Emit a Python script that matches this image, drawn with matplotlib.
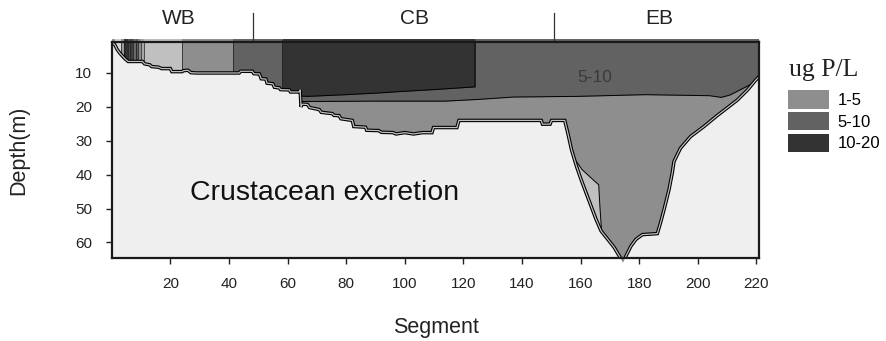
import numpy as np
import matplotlib
matplotlib.use('Agg')
import matplotlib.pyplot as plt
from matplotlib.patches import Polygon, Patch
from matplotlib.transforms import blended_transform_factory

plt.rcParams['font.family'] = ['Liberation Sans', 'DejaVu Sans']

# lake bottom along the transect (segment, depth m)
bottom_seg = [0, 1.0, 1.8, 2.8, 4.5, 5.6, 10.5, 11.2, 13.0, 13.6, 16.0, 17.0, 20.0, 20.5,
              24.0, 24.5, 26.0, 27.0, 29.0, 38.0, 43.5, 44.0, 48.0, 48.5, 50.4, 51.0,
              52.6, 53.0, 55.0, 55.5, 57.2, 57.6, 60.6, 61.0, 64.0, 64.3, 64.6, 65.0,
              66.8, 67.5, 70.8, 71.5, 75.3, 75.8, 77.6, 78.2, 82.1, 82.6, 86.6, 87.0,
              91.1, 92.0, 96.0, 97.0, 100.0, 103.0, 106.0, 109.3, 109.8, 117.8, 118.5,
              143.5, 146.6, 147.0, 149.6, 150.1, 154.6, 155.7, 156.9, 158.6, 160.2,
              161.9, 163.6, 165.3, 167.0, 169.3, 171.5, 173.2, 174.5, 175.5, 177.2,
              178.9, 181.1, 186.2, 187.3, 188.5, 190.2, 191.3, 191.9, 194.1, 197.5,
              202.1, 206.6, 211.1, 213.5, 217.0, 219.7, 221.0]
bottom_depth = [1.0, 1.6, 3.0, 4.2, 5.8, 6.6, 6.6, 7.3, 7.6, 8.1, 8.3, 8.7, 8.7, 9.6,
                9.6, 9.3, 9.2, 9.9, 10.0, 10.0, 10.0, 9.5, 9.5, 10.2, 10.3, 11.7,
                11.8, 13.0, 13.2, 14.2, 14.4, 14.9, 15.0, 15.6, 15.6, 15.0, 20.0, 19.2,
                19.3, 20.2, 20.8, 21.6, 22.0, 22.5, 22.6, 23.5, 24.0, 25.8, 26.0, 26.9,
                27.0, 27.5, 27.6, 28.0, 27.6, 28.0, 27.6, 27.6, 26.1, 26.1, 24.0,
                24.0, 24.0, 25.1, 25.1, 24.0, 24.0, 27.9, 32.6, 37.5, 41.5,
                45.4, 49.3, 53.2, 56.6, 59.1, 61.5, 64.0, 66.0, 64.0, 61.1,
                59.1, 57.7, 57.4, 54.2, 50.3, 44.4, 39.5, 36.1, 32.2, 28.8,
                25.8, 22.6, 19.6, 18.0, 15.0, 12.2, 11.0]

# 5-10 / 1-5 boundary east of segment 58
thermo_seg = [58, 64, 70, 91, 114, 125, 137, 159, 182, 204, 208, 211, 213.5, 218, 221]
thermo_depth = [18.6, 18.4, 18.4, 18.3, 18.3, 17.8, 17.1, 16.9, 16.4, 16.7, 17.2, 16.5, 15.4, 13.4, 11.5]

# lower edge of the 10-20 zone in the central basin
high_seg = [58, 64, 67, 80, 91, 98, 110, 124]
high_depth = [16.9, 16.8, 16.9, 16.4, 15.9, 15.5, 14.9, 14.1]

# <1 zone on the west wall of the eastern basin
low_seg = [150, 158.5, 160.5, 163.0, 166.2, 166.6, 167.2, 170.0, 172.8, 172.8, 150]
low_depth = [36.0, 36.0, 38.5, 40.5, 43.0, 49.3, 57.1, 61.0, 63.5, 70.0, 70.0]

# western basin columns (segment edges, colours)
wb_edges = [1.0, 3.2, 4.3, 5.4, 6.2, 7.3, 8.3, 9.0, 10.0, 11.0, 24.0, 41.3, 58.0]
wb_colors = ['#d8d8d8', '#9a9a9a', '#303030', '#505050', '#404040', '#6a6a6a',
             '#585858', '#8a8a8a', '#a8a8a8', '#c0c0c0', '#8e8e8e', '#626262']

basins = ['WB', 'CB', 'EB']
basin_pos = [22.8, 103.2, 186.7]
basin_breaks = [48.2, 151.0]

classes = ['1-5', '5-10', '10-20']
class_colors = ['#8e8e8e', '#626262', '#333333']
c_low = '#c0c0c0'

fig = plt.figure(figsize=(8.87, 3.41), dpi=100)
ax = fig.add_axes([0.126, 0.2434, 0.730, 0.632])
ax.set_facecolor('#efefef')

# water body used to clip all the concentration zones
water = Polygon(list(zip(bottom_seg, bottom_depth)) + [(221, 0), (0, 0)],
                closed=True, facecolor='none', edgecolor='none')
ax.add_patch(water)

def clipped(artists):
    for a in np.atleast_1d(artists):
        a.set_clip_path(water)

clipped(ax.fill_between([0, 221], 0, 70, color=class_colors[0], lw=0))
for i, c in enumerate(wb_colors):
    clipped(ax.fill_between([wb_edges[i], wb_edges[i + 1]], 0, 70, color=c, lw=0))
clipped(ax.fill_between(thermo_seg, 0, thermo_depth, color=class_colors[1], lw=0))
clipped(ax.fill_between(high_seg, 0, high_depth, color=class_colors[2], lw=0))
clipped(ax.fill(low_seg, low_depth, color=c_low, lw=0))

# contour lines
clipped(ax.plot(thermo_seg, thermo_depth, color='k', lw=0.7))
clipped(ax.plot(high_seg + [high_seg[-1]], high_depth + [0], color='k', lw=0.7))
clipped(ax.plot(low_seg[:9], low_depth[:9], color='k', lw=0.7))
for xe in wb_edges[1:]:
    clipped(ax.plot([xe, xe], [0, 70], color='#1a1a1a', lw=0.5))

ax.plot(bottom_seg, bottom_depth, color='k', lw=2.5, solid_joinstyle='miter')
ax.plot(bottom_seg, bottom_depth, color=c_low, lw=0.9)

ax.text(164.7, 11.2, '5-10', fontsize=12.5, color='#3a3a3a', ha='center', va='center')
ax.text(26.6, 45.4, 'Crustacean excretion', fontsize=20.5, color='#111111',
        ha='left', va='center')

ax.set_xlim(0, 221)
ax.set_ylim(64.6, 1.0)
ax.set_xticks(np.arange(20, 221, 20))
ax.set_yticks(np.arange(10, 61, 10))
ax.tick_params(direction='out', length=4, width=1, labelsize=11, colors='#222222')
ax.tick_params(axis='y', pad=10)
ax.tick_params(axis='x', pad=10)
for s in ax.spines.values():
    s.set_linewidth(1.6)
    s.set_color('#1a1a1a')

ax.set_xlabel('Segment', fontsize=15.5, color='#222222')
ax.xaxis.set_label_coords(0.5, -0.275)
ax.set_ylabel('Depth(m)', fontsize=15.5, color='#222222')
ax.yaxis.set_label_coords(-0.127, 0.5)

# basin names and dividers above the frame
trans = blended_transform_factory(ax.transData, ax.transAxes)
for name, xp in zip(basins, basin_pos):
    ax.text(xp, 1.109, name, transform=trans, fontsize=15, color='#222222',
            ha='center', va='center')
for xb in basin_breaks:
    ax.plot([xb, xb], [1.0, 1.138], transform=trans, clip_on=False, color='#333333', lw=0.9)

# legend: serif heading, then the three class swatches
fig.text(789 / 887, 1 - 70 / 341, 'ug P/L', family=['Liberation Serif', 'DejaVu Serif'],
         fontsize=18.5, color='#222222', ha='left', va='center')
handles = [Patch(facecolor=c, edgecolor='none') for c in class_colors]
fig.legend(handles, classes, loc='upper left', bbox_to_anchor=(788 / 887, 1 - 90 / 341),
           frameon=False, fontsize=12, handlelength=2.44, handleheight=1.34,
           labelspacing=0.19, handletextpad=0.55, borderpad=0, borderaxespad=0)

plt.savefig('out.png', dpi=100, facecolor='white')
plt.close()
